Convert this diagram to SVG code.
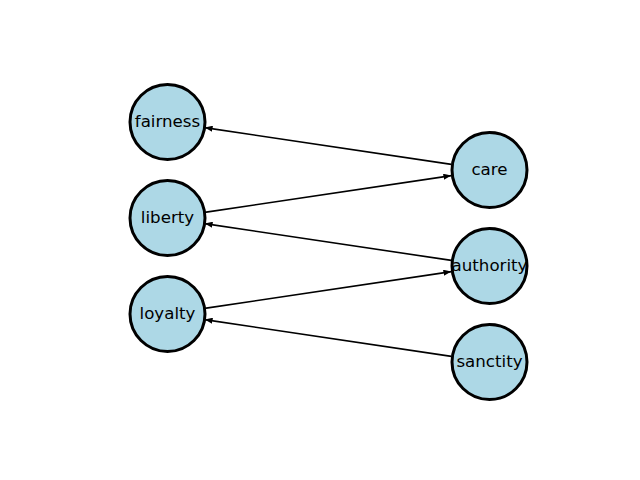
<svg xmlns="http://www.w3.org/2000/svg" width="640" height="480" viewBox="0 0 640 480">
<style>
.node circle{fill:#add8e6;stroke:#000;stroke-width:3}
.node text{font-family:"DejaVu Sans",sans-serif;font-size:16.67px;fill:#000;text-anchor:middle;dominant-baseline:central}
.edge{stroke:#000;stroke-width:1.6;fill:none;marker-end:url(#arr)}
</style>
<defs>
<marker id="arr" markerUnits="userSpaceOnUse" viewBox="0 0 8 6" markerWidth="8" markerHeight="6" refX="8" refY="3" orient="auto">
<path d="M0,0 L8,3 L0,6 z" fill="#000"/>
</marker>
</defs>
<rect width="640" height="480" fill="#fff"/>
<g id="connectors">
<line class="edge" x1="451.4" y1="164.4" x2="204.6" y2="127.6"/>
<line class="edge" x1="204.6" y1="212.4" x2="451.4" y2="175.6"/>
<line class="edge" x1="451.4" y1="260.4" x2="204.6" y2="223.6"/>
<line class="edge" x1="204.6" y1="308.4" x2="451.4" y2="271.6"/>
<line class="edge" x1="451.4" y1="356.4" x2="204.6" y2="319.6"/>
</g>
<g id="fairness" class="node"><circle cx="167.5" cy="122" r="37.5"/><text x="167.5" y="121">fairness</text></g>
<g id="liberty" class="node"><circle cx="167.5" cy="218" r="37.5"/><text x="167.5" y="217">liberty</text></g>
<g id="loyalty" class="node"><circle cx="167.5" cy="314" r="37.5"/><text x="167.5" y="313">loyalty</text></g>
<g id="care" class="node"><circle cx="489.5" cy="170" r="37.5"/><text x="489.5" y="169">care</text></g>
<g id="authority" class="node"><circle cx="489.5" cy="266" r="37.5"/><text x="489.5" y="265">authority</text></g>
<g id="sanctity" class="node"><circle cx="489.5" cy="362" r="37.5"/><text x="489.5" y="361">sanctity</text></g>
</svg>
